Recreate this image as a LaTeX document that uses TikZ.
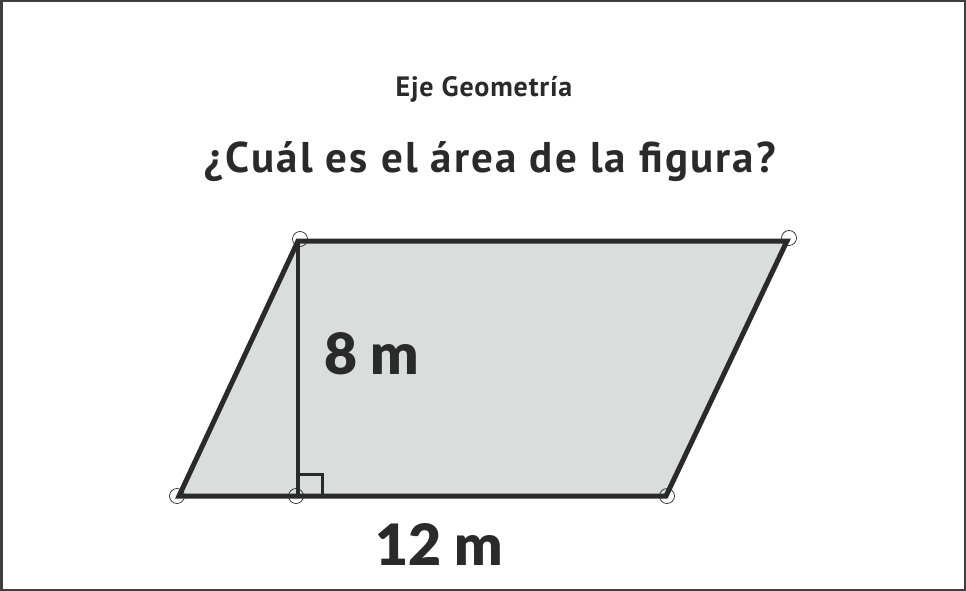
\documentclass[tikz,border=0pt]{standalone}
\usepackage{fontspec}
\usetikzlibrary{calc}
\setmainfont{PT Sans}
\newfontfamily\titlefont[LetterSpace=5]{PT Sans}
\newfontfamily\subfont[LetterSpace=3]{PT Sans}
\newfontfamily\labfont{Lato Black}
\definecolor{ink}{HTML}{2A2A2A}
\definecolor{fillgray}{HTML}{DBDDDC}
\begin{document}
\begin{tikzpicture}[x=1pt,y=-1pt,
  edge/.style={draw=ink,line width=5pt,line join=miter},
  vmark/.style={draw=ink,line width=0.7pt,circle,inner sep=0pt,minimum size=15pt},
  lab/.style={text=ink,font=\labfont,inner sep=0pt,anchor=base west}]
\useasboundingbox (0,0) rectangle (966,591);
\draw[draw=ink!90,line width=2.5pt] (1.25,1.25) rectangle (964.75,589.75);
\node[text=ink,font=\subfont\bfseries\fontsize{28}{30}\selectfont,anchor=base,inner sep=0pt] (sub) at (484,97) {Eje Geometría};
\node[text=ink,font=\titlefont\bfseries\fontsize{43}{46}\selectfont,anchor=base,inner sep=0pt] (q) at (490,172) {¿Cuál es el área de la figura?};
\coordinate (TL) at (298,241);
\coordinate (TR) at (787,241);
\coordinate (BR) at (666,496);
\coordinate (BL) at (179,496);
\coordinate (F) at (298,496);
\fill[fillgray] (TL) -- (TR) -- (BR) -- (BL) -- cycle;
\draw[draw=ink,line width=4pt] (TL) -- (F);
\draw[draw=ink,line width=3pt] ($(F)+(0,-22)$) -- ++(24,0) -- ++(0,22);
\draw[edge] (TL) -- (TR) -- (BR) -- (BL) -- cycle;
\node[vmark] (cTL) at (300,239) {};
\node[vmark] (cTR) at (789,238) {};
\node[vmark] (cBR) at (667,496) {};
\node[vmark] (cBL) at (177,496) {};
\node[vmark] (cF) at (296,496) {};
\node[lab,font=\labfont\fontsize{57}{60}\selectfont] (h) at (324,374) {8 m};
\node[lab,font=\labfont\fontsize{57}{60}\selectfont] (b) at (375,565) {12 m};
\end{tikzpicture}
\end{document}
